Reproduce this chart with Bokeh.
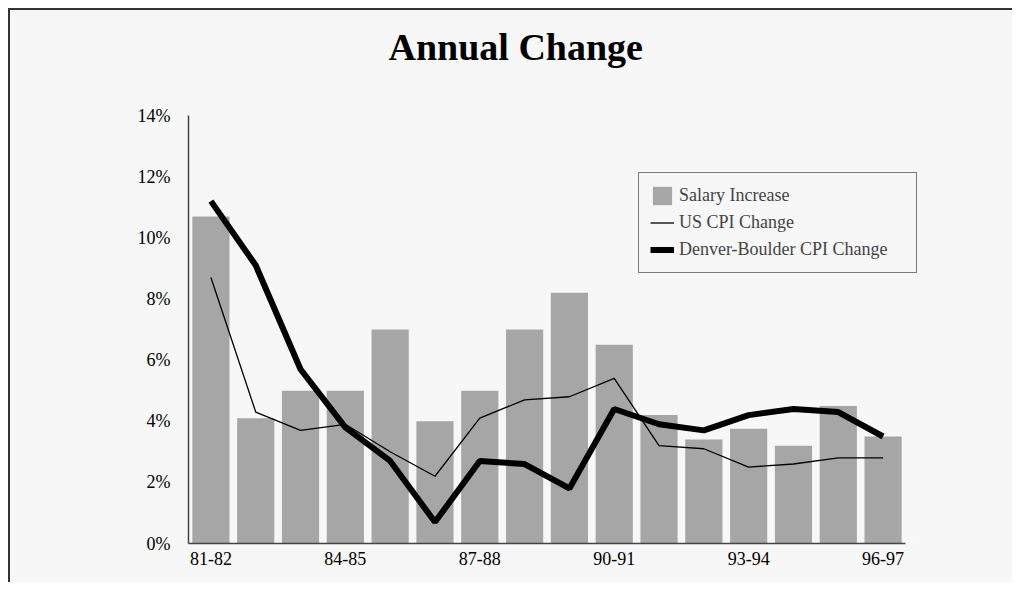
from bokeh.plotting import figure
from bokeh.models import (Range1d, PrintfTickFormatter, Legend, LegendItem, FixedTicker,
                          InlineStyleSheet, Title)
from bokeh.embed import file_html
from bokeh.resources import INLINE

categories = ["81-82", "82-83", "83-84", "84-85", "85-86", "86-87", "87-88", "88-89",
              "89-90", "90-91", "91-92", "92-93", "93-94", "94-95", "95-96", "96-97"]
salary_increase = [10.7, 4.1, 5.0, 5.0, 7.0, 4.0, 5.0, 7.0, 8.2, 6.5, 4.2, 3.4, 3.75, 3.2, 4.5, 3.5]
us_cpi = [8.7, 4.3, 3.7, 3.9, 3.0, 2.2, 4.1, 4.7, 4.8, 5.4, 3.2, 3.1, 2.5, 2.6, 2.8, 2.8]
denver_cpi = [11.2, 9.1, 5.7, 3.8, 2.7, 0.7, 2.7, 2.6, 1.8, 4.4, 3.9, 3.7, 4.2, 4.4, 4.3, 3.5]
shown_labels = ["81-82", "84-85", "87-88", "90-91", "93-94", "96-97"]
y_ticks = [0, 2, 4, 6, 8, 10, 12, 14]

FONT = "Liberation Serif"
BG = "#f7f7f7"

xpos = list(range(len(categories)))
n = len(categories)
# frame extends a little past the last category so the legend box is not clipped
extra_px = 20
extra = extra_px / (717 / n)

p = figure(width=1012, height=582, x_range=Range1d(-0.5, n - 0.5 + extra), y_range=Range1d(0, 14),
           output_backend="svg", toolbar_location=None, title=None,
           min_border_left=188, min_border_right=107 - extra_px, min_border_top=115, min_border_bottom=39)

p.background_fill_color = BG
p.border_fill_color = BG
p.outline_line_color = None
p.xgrid.grid_line_color = None
p.ygrid.grid_line_color = None

p.stylesheets = [InlineStyleSheet(css="""
:host { position: relative; }
:host::before { content: ""; position: absolute; left: 0; top: 0; width: 100%; height: 100%;
  box-sizing: border-box; border-left: 8px solid white; border-top: 8px solid white;
  pointer-events: none; z-index: 100; }
:host::after { content: ""; position: absolute; left: 8px; top: 8px; right: 0; bottom: 0;
  border-left: 2px solid #333333; border-top: 2px solid #333333;
  pointer-events: none; z-index: 101; }
""")]

spacer = Title(text=" ", text_font=FONT, text_font_size="38px", text_font_style="bold",
               standoff=4, align="left")
main_title = Title(text="Annual Change", text_font=FONT, text_font_size="38px",
                   text_font_style="bold", text_color="black", align="left", offset=200, standoff=0)
p.add_layout(spacer, "above")
p.add_layout(main_title, "above")

bars = p.vbar(x=xpos, top=salary_increase, width=0.83, fill_color="#a6a6a6", line_color=None)
l1 = p.line(x=xpos, y=us_cpi, line_color="black", line_width=1.3)
l2 = p.line(x=xpos, y=denver_cpi, line_color="black", line_width=6)

for ax in (p.xaxis[0], p.yaxis[0]):
    ax.axis_line_color = "#444444"
    ax.axis_line_width = 1.5
    ax.major_tick_line_color = None
    ax.minor_tick_line_color = None
    ax.major_tick_out = 0
    ax.major_tick_in = 0
    ax.minor_tick_out = 0
    ax.minor_tick_in = 0
    ax.major_label_text_font = FONT
    ax.major_label_text_font_size = "18px"
    ax.major_label_text_color = "black"

p.yaxis[0].ticker = FixedTicker(ticks=y_ticks)
p.yaxis[0].formatter = PrintfTickFormatter(format="%d%%")
p.yaxis[0].major_label_standoff = 18

shown_idx = [categories.index(c) for c in shown_labels]
p.xaxis[0].ticker = FixedTicker(ticks=shown_idx)
p.xaxis[0].major_label_overrides = {i: categories[i] for i in shown_idx}
p.xaxis[0].major_label_standoff = 8
p.xaxis[0].bounds = (-0.5, n - 0.5)

legend = Legend(items=[LegendItem(label="Salary Increase", renderers=[bars]),
                       LegendItem(label="US CPI Change", renderers=[l1]),
                       LegendItem(label="Denver-Boulder CPI Change", renderers=[l2])],
                location=(450, 270))
legend.label_text_font = FONT
legend.label_text_font_size = "18px"
legend.glyph_width = 24
legend.glyph_height = 23
legend.label_height = 21
legend.label_standoff = 5
legend.label_width = 226
legend.spacing = 4
legend.padding = 11
legend.margin = 0
legend.border_line_color = "black"
legend.border_line_width = 1.2
legend.background_fill_color = BG
legend.background_fill_alpha = 1.0
p.add_layout(legend)

open("out.html", "w").write(file_html(p, INLINE))
